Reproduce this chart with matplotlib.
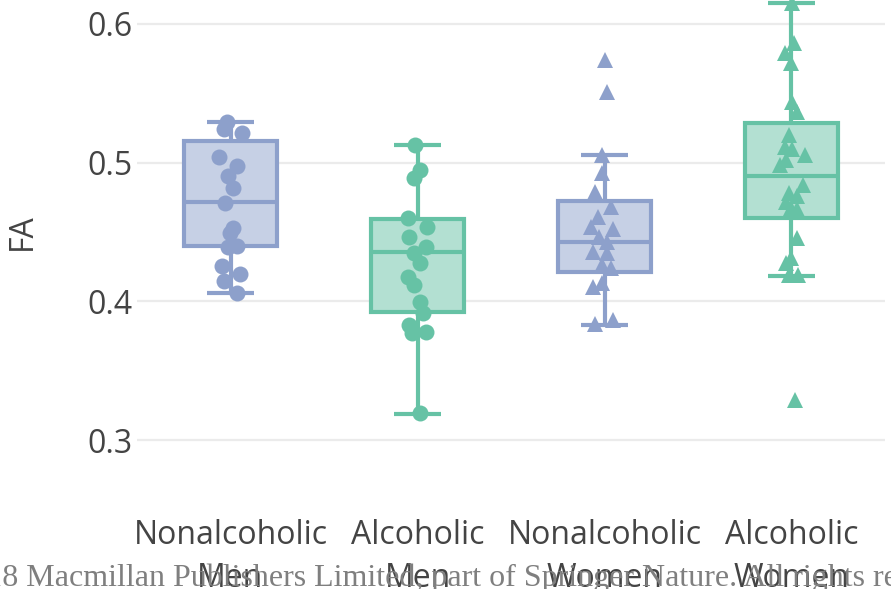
import matplotlib.pyplot as plt

plt.rcParams['font.family'] = ['Open Sans', 'DejaVu Sans']

groups = ['Nonalcoholic\nMen', 'Alcoholic\nMen', 'Nonalcoholic\nWomen', 'Alcoholic\nWomen']
colors = ['#8da0cb', '#66c2a5', '#8da0cb', '#66c2a5']
fills = ['#c6d0e5', '#b3e0d2', '#c6d0e5', '#b3e0d2']
markers = ['o', 'o', '^', '^']

# box summaries per group
q1 = [0.4401, 0.3925, 0.4213, 0.4602]
med = [0.4718, 0.4357, 0.4429, 0.4905]
q3 = [0.5157, 0.4595, 0.4725, 0.5287]
whislo = [0.4062, 0.3190, 0.3831, 0.4184]
whishi = [0.5294, 0.5128, 0.5056, 0.6151]

# individual subjects (FA) and their horizontal jitter
fa_nonalc_men = [0.5294, 0.5244, 0.5215, 0.5042, 0.4977, 0.4905, 0.4818, 0.4710,
                 0.4530, 0.4494, 0.4393, 0.4401, 0.4256, 0.4199, 0.4148, 0.4062]
jit_nonalc_men = [-0.021, -0.037, 0.064, -0.064, 0.037, -0.016, 0.016, -0.027,
                  0.011, -0.005, -0.011, 0.037, -0.043, 0.053, -0.037, 0.037]

fa_alc_men = [0.5128, 0.4948, 0.4890, 0.4602, 0.4537, 0.4465, 0.4393, 0.4350, 0.4278,
              0.4177, 0.4120, 0.3997, 0.3918, 0.3831, 0.3781, 0.3774, 0.3197]
jit_alc_men = [-0.011, 0.016, -0.021, -0.053, 0.053, -0.048, 0.043, -0.021, 0.016,
               -0.053, -0.021, 0.016, 0.027, -0.048, 0.043, -0.027, 0.016]

fa_nonalc_women = [0.5741, 0.5510, 0.5056, 0.4927, 0.4790, 0.4682, 0.4610, 0.4537,
                   0.4523, 0.4465, 0.4429, 0.4357, 0.4350, 0.4264, 0.4242, 0.4134,
                   0.4105, 0.3865, 0.3838]
jit_nonalc_women = [0.0, 0.011, -0.011, -0.016, -0.053, 0.037, -0.037, -0.070,
                    0.043, -0.027, 0.011, -0.064, 0.016, -0.011, 0.037, -0.016,
                    -0.064, 0.043, -0.053]

fa_alc_women = [0.6151, 0.5863, 0.5791, 0.5719, 0.5438, 0.5366, 0.5200, 0.5114,
                0.5100, 0.5056, 0.5020, 0.4984, 0.4840, 0.4782, 0.4761, 0.4718,
                0.4674, 0.4667, 0.4458, 0.4314, 0.4278, 0.4192, 0.4192, 0.3291]
jit_alc_women = [0.005, 0.016, -0.037, -0.005, 0.005, 0.032, -0.011, -0.037,
                 0.005, 0.070, -0.032, -0.059, 0.059, -0.011, 0.032, -0.032,
                 -0.005, 0.032, 0.032, -0.005, -0.032, -0.016, 0.037, 0.021]

values = [fa_nonalc_men, fa_alc_men, fa_nonalc_women, fa_alc_women]
jitter = [jit_nonalc_men, jit_alc_men, jit_nonalc_women, jit_alc_women]

fig = plt.figure(figsize=(8.91, 5.89), dpi=100)
ax = fig.add_axes([137 / 891, 1 - 453.9 / 589, 748 / 891, 464.6 / 589])

for i in range(4):
    stats = [dict(q1=q1[i], med=med[i], q3=q3[i], whislo=whislo[i],
                  whishi=whishi[i], fliers=[])]
    line = dict(color=colors[i], linewidth=3, solid_capstyle='butt')
    ax.bxp(stats, positions=[i], widths=0.5, capwidths=0.246, patch_artist=True,
           showfliers=False,
           boxprops=dict(facecolor=fills[i], edgecolor=colors[i], linewidth=3),
           whiskerprops=line, capprops=line, medianprops=line, zorder=2)
    xs = [i + j for j in jitter[i]]
    ax.plot(xs, values[i], linestyle='none', marker=markers[i],
            markersize=11.5 if markers[i] == 'o' else 11.5,
            color=colors[i], markeredgewidth=0, zorder=3)

ax.set_xlim(-0.5, 3.5)
ax.set_ylim(0.29, 0.625)
ax.set_yticks([0.3, 0.4, 0.5, 0.6])
ax.set_yticklabels(['0.3', '0.4', '0.5', '0.6'])
ax.set_xticks(range(4))
ax.set_xticklabels(groups)
for lbl in ax.get_xticklabels():
    lbl.set_linespacing(1.38)
ax.tick_params(axis='both', length=0, labelsize=23, labelcolor='#444444')
ax.tick_params(axis='x', pad=47)
ax.tick_params(axis='y', pad=3)
ax.grid(axis='y', color='#ebebeb', linewidth=1.6, zorder=0)
ax.set_axisbelow(True)
for s in ax.spines.values():
    s.set_visible(False)

fig.text(22 / 891, 1 - 232 / 589, 'FA', rotation=90, ha='center', va='center',
         fontsize=23, color='#444444')

# publisher line, running off both edges
footer = dict(fontsize=23, color='#7f7f7f', family='Liberation Serif')
probe = fig.text(0, 0, '\u00a9201', **footer)
fig.canvas.draw()
w = probe.get_window_extent().width
probe.remove()
fig.text((2 - w) / 891, 1 - 586 / 589,
         '\u00a92018 Macmillan Publishers Limited, part of Springer Nature. All rights reserved.',
         ha='left', va='baseline', zorder=0, **footer)

fig.savefig('out.png', dpi=100)
